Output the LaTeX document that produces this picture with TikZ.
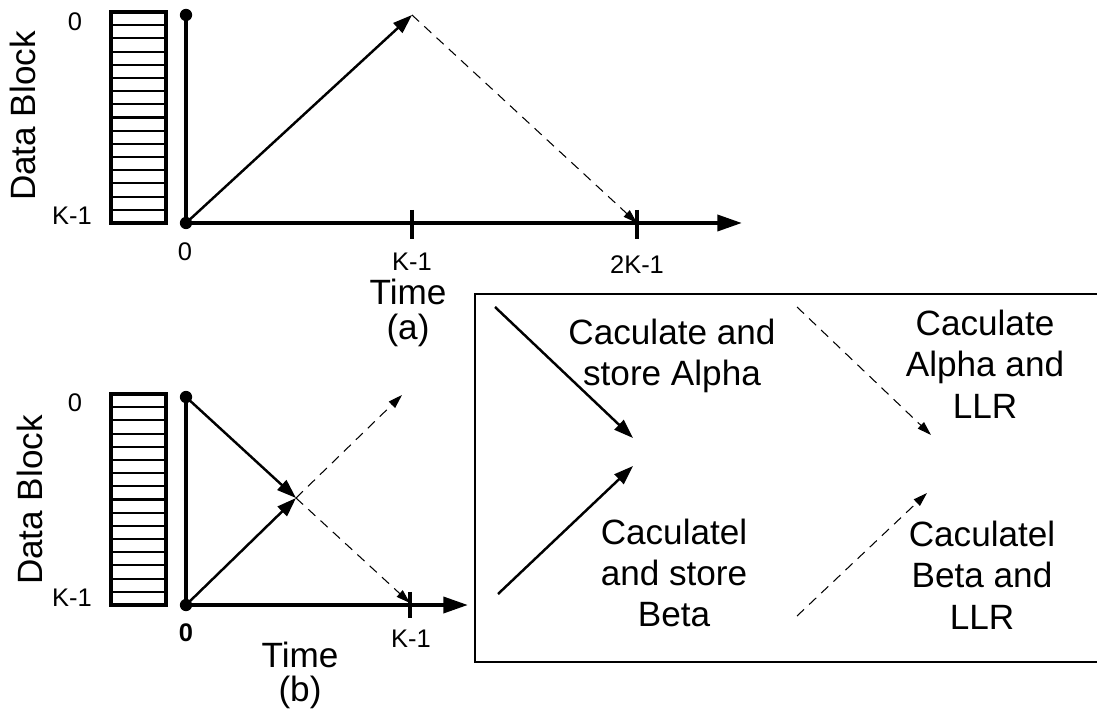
\documentclass[tikz,border=0pt]{standalone}
\usepackage{fontspec}
\setmainfont{Liberation Sans}
\usetikzlibrary{arrows.meta}
\begin{document}
\begin{tikzpicture}[x=0.02cm,y=-0.02cm,
  axisline/.style={line width=2.3pt},
  axarrow/.style={line width=2.3pt,-{Triangle[length=14pt,width=9pt]}},
  solidarrow/.style={line width=1.4pt,-{Triangle[length=11pt,width=7.5pt]}},
  dasharrow/.style={line width=0.6pt,dash pattern=on 5.5pt off 4pt,-{Triangle[length=8pt,width=5pt]}},
  bigtext/.style={font=\fontsize{20}{23.5}\selectfont,align=center,inner sep=0pt},
  smalltext/.style={font=\fontsize{14.5}{17}\selectfont,inner sep=0pt},
  dot/.style={circle,fill,inner sep=0pt,minimum size=7pt},
  tickmark/.style={line width=2.5pt},
  blockout/.style={line width=1.8pt},
  blockin/.style={line width=1.2pt},
  frame/.style={line width=0.9pt}
]
\useasboundingbox (0,0) rectangle (1097,722);

% ---------------- (a) ----------------
\draw[blockout] (111,12) rectangle (166,223);
\foreach \i in {1,...,15} \draw[blockin] (111,{12+\i*211/16}) -- (166,{12+\i*211/16});
\node[bigtext,rotate=90] (dbA) at (23,116) {Data Block};
\node[smalltext] (zA) at (75,22) {0};
\node[smalltext] (kA) at (72,216) {K-1};

\node[dot] (topA) at (186,15) {};
\node[dot] (oA) at (186,223) {};
\coordinate (endA) at (742,223);
\coordinate (apexA) at (412,15);
\coordinate (t1A) at (412,223);
\coordinate (t2A) at (637,223);
\draw[axisline] (topA.center) -- (oA.center);
\draw[axarrow] (oA.center) -- (endA);
\draw[tickmark] ([yshift=7.5pt]t1A) -- ([yshift=-9pt]t1A);
\draw[tickmark] ([yshift=7.5pt]t2A) -- ([yshift=-9pt]t2A);
\draw[solidarrow] (oA.center) -- (apexA);
\draw[dasharrow] (apexA) -- (t2A);
\node[smalltext] (o0A) at (185,252) {0};
\node[smalltext] (lk1A) at (412,262) {K-1};
\node[smalltext] (l2kA) at (637,265) {2K-1};
\node[bigtext] (timeA) at (408,292) {Time};
\node[bigtext] (capA) at (408,330) {(a)};

% ---------------- (b) ----------------
\draw[blockout] (111,394) rectangle (166,605);
\foreach \i in {1,...,15} \draw[blockin] (111,{394+\i*211/16}) -- (166,{394+\i*211/16});
\node[bigtext,rotate=90] (dbB) at (30,500) {Data Block};
\node[smalltext] (zB) at (75,403) {0};
\node[smalltext] (kB) at (72,598) {K-1};

\node[dot] (topB) at (186,397) {};
\node[dot] (oB) at (186,605) {};
\coordinate (endB) at (468,605);
\coordinate (cross) at (296,498);
\coordinate (upB) at (402,395);
\coordinate (tB) at (410,605);
\coordinate (dnB) at (410,603);
\draw[axisline] (topB.center) -- (oB.center);
\draw[axarrow] (oB.center) -- (endB);
\draw[tickmark] ([yshift=7.5pt]tB) -- ([yshift=-7.5pt]tB);
\draw[solidarrow] (topB.center) -- (cross);
\draw[solidarrow] (oB.center) -- (cross);
\draw[dasharrow] (cross) -- (upB);
\draw[dasharrow] (cross) -- (dnB);
\node[smalltext] (o0B) at (186,633) {\textbf{0}};
\node[smalltext] (lkB) at (411,639) {K-1};
\node[bigtext] (timeB) at (300,655) {Time};
\node[bigtext] (capB) at (300,692) {(b)};

% ---------------- legend box ----------------
\coordinate (bxTR) at (1099,294);
\coordinate (bxTL) at (475,294);
\coordinate (bxBL) at (475,662);
\coordinate (bxBR) at (1099,662);
\draw[frame] (bxTR) -- (bxTL) -- (bxBL) -- (bxBR);

\coordinate (s1a) at (495,307);  \coordinate (s1b) at (633,438);
\coordinate (s2a) at (498,594);  \coordinate (s2b) at (633,466);
\coordinate (d1a) at (797,307);  \coordinate (d1b) at (931,435);
\coordinate (d2a) at (797,616);  \coordinate (d2b) at (927,493);
\draw[solidarrow] (s1a) -- (s1b);
\draw[solidarrow] (s2a) -- (s2b);
\draw[dasharrow] (d1a) -- (d1b);
\draw[dasharrow] (d2a) -- (d2b);

\node[bigtext] (txA) at (672,356) {Caculate and\\store Alpha};
\node[bigtext] (txB) at (985,364) {Caculate\\Alpha and\\LLR};
\node[bigtext] (txC) at (674,573) {Caculatel\\and store\\Beta};
\node[bigtext] (txD) at (982,575) {Caculatel\\Beta and\\LLR};
\end{tikzpicture}
\end{document}
